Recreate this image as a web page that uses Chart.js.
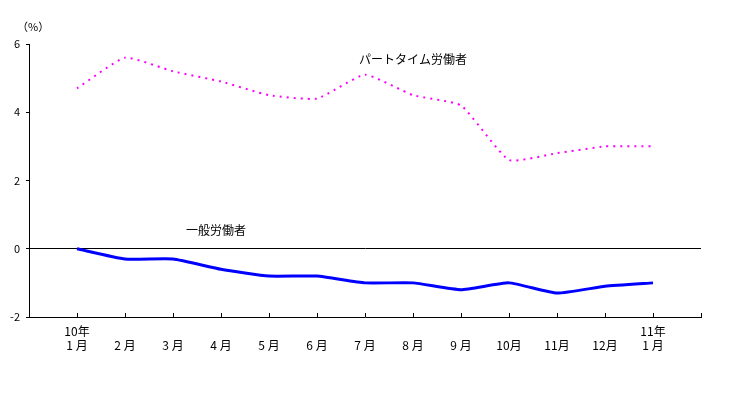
<!DOCTYPE html>
<html><head><meta charset="utf-8">
<script src="https://cdn.jsdelivr.net/npm/chart.js@4"></script>
<style>html,body{margin:0;padding:0;background:#fff}#wrap{width:746px;height:398px}</style>
</head><body><div id="wrap"><canvas id="c" width="746" height="398"></canvas></div>
<script>
const categories = [[''], ['10年','1 月'], ['','2 月'], ['','3 月'], ['','4 月'], ['','5 月'], ['','6 月'], ['','7 月'], ['','8 月'], ['','9 月'], ['','10月'], ['','11月'], ['','12月'], ['11年','1 月'], ['']];
const partTime = [null, 4.7, 5.6, 5.2, 4.9, 4.5, 4.4, 5.1, 4.5, 4.2, 2.6, 2.8, 3.0, 3.0, null];
const general  = [null, 0.0, -0.3, -0.3, -0.6, -0.8, -0.8, -1.0, -1.0, -1.2, -1.0, -1.3, -1.1, -1.0, null];
const yTicks = [6, 4, 2, 0, -2];
const seriesNames = ['パートタイム労働者', '一般労働者'];
const unitLabel = '（%）';

const FONT = '"Noto Sans CJK JP", sans-serif';

const annot = {
  id: 'annot',
  afterDraw(chart) {
    const ctx = chart.ctx, x = chart.scales.x, y = chart.scales.y;
    ctx.save();
    ctx.fillStyle = '#000';
    ctx.textBaseline = 'middle';
    ctx.textAlign = 'left';
    ctx.font = '11px ' + FONT;
    ctx.fillText(unitLabel, x.left - 12, y.top - 17);
    ctx.font = '12px ' + FONT;
    ctx.fillText(seriesNames[0], x.getPixelForValue(7) - 6, y.getPixelForValue(5.55));
    ctx.fillText(seriesNames[1], x.getPixelForValue(3.27), y.getPixelForValue(0.55));
    // inward x ticks
    ctx.strokeStyle = '#000';
    ctx.lineWidth = 1;
    ctx.beginPath();
    for (let i = 1; i < categories.length; i++) {
      const px = Math.round(x.getPixelForValue(i)) + 0.5;
      ctx.moveTo(px, y.bottom);
      ctx.lineTo(px, y.bottom - 4);
    }
    ctx.stroke();
    ctx.restore();
  }
};

new Chart(document.getElementById('c'), {
  type: 'line',
  data: {
    labels: categories,
    datasets: [
      { label: seriesNames[0], data: partTime, borderColor: '#FF00FF', borderWidth: 2, borderDash: [2, 5], pointRadius: 0, tension: 0.15 },
      { label: seriesNames[1], data: general, borderColor: '#0000FF', borderWidth: 3, pointRadius: 0, tension: 0.15 }
    ]
  },
  options: {
    responsive: false,
    animation: false,
    devicePixelRatio: 1,
    layout: { padding: { top: 44, right: 45, left: 0, bottom: 0 } },
    plugins: { legend: { display: false }, tooltip: { enabled: false } },
    scales: {
      x: {
        offset: false,
        afterFit(s) { s.height = 81; },
        grid: { display: true, drawOnChartArea: false, drawTicks: false },
        border: { display: true, color: '#000', width: 1 },
        ticks: { color: '#000', font: { family: FONT, size: 12 }, padding: 7, maxRotation: 0, autoSkip: false }
      },
      y: {
        min: -2, max: 6,
        afterFit(s) { s.width = 29; },
        afterBuildTicks(s) { s.ticks = yTicks.map(v => ({ value: v })); },
        grid: {
          color: c => (c.tick && c.tick.value === 0) ? '#000' : 'rgba(0,0,0,0)',
          tickColor: '#000', tickLength: 3, drawTicks: true
        },
        border: { display: true, color: '#000', width: 1 },
        ticks: { color: '#000', font: { family: FONT, size: 11 }, padding: 6 }
      }
    }
  },
  plugins: [annot]
});
</script></body></html>
